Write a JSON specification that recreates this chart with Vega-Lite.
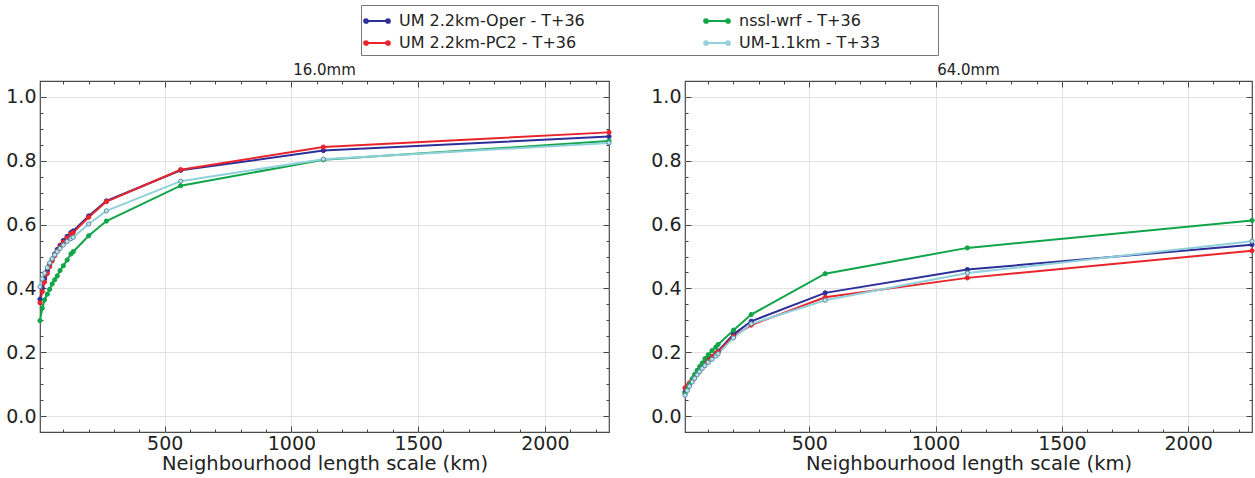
{
  "$schema": "https://vega.github.io/schema/vega-lite/v6.json",
  "padding": {"left": 5, "top": 4, "right": 4, "bottom": 4},
  "data": {"values": [
    {"t":"16.0mm","m":"UM 2.2km-Oper - T+36","x":8,"y":0.366},{"t":"16.0mm","m":"UM 2.2km-Oper - T+36","x":17,"y":0.40},{"t":"16.0mm","m":"UM 2.2km-Oper - T+36","x":26,"y":0.43},{"t":"16.0mm","m":"UM 2.2km-Oper - T+36","x":37,"y":0.455},{"t":"16.0mm","m":"UM 2.2km-Oper - T+36","x":46,"y":0.475},{"t":"16.0mm","m":"UM 2.2km-Oper - T+36","x":56,"y":0.492},{"t":"16.0mm","m":"UM 2.2km-Oper - T+36","x":66,"y":0.508},{"t":"16.0mm","m":"UM 2.2km-Oper - T+36","x":76,"y":0.522},{"t":"16.0mm","m":"UM 2.2km-Oper - T+36","x":87,"y":0.535},{"t":"16.0mm","m":"UM 2.2km-Oper - T+36","x":100,"y":0.55},{"t":"16.0mm","m":"UM 2.2km-Oper - T+36","x":115,"y":0.563},{"t":"16.0mm","m":"UM 2.2km-Oper - T+36","x":130,"y":0.575},{"t":"16.0mm","m":"UM 2.2km-Oper - T+36","x":139,"y":0.58},{"t":"16.0mm","m":"UM 2.2km-Oper - T+36","x":200,"y":0.627},{"t":"16.0mm","m":"UM 2.2km-Oper - T+36","x":270,"y":0.674},{"t":"16.0mm","m":"UM 2.2km-Oper - T+36","x":563,"y":0.770},{"t":"16.0mm","m":"UM 2.2km-Oper - T+36","x":1126,"y":0.832},{"t":"16.0mm","m":"UM 2.2km-Oper - T+36","x":2253,"y":0.876},
    {"t":"16.0mm","m":"UM 2.2km-PC2 - T+36","x":8,"y":0.355},{"t":"16.0mm","m":"UM 2.2km-PC2 - T+36","x":17,"y":0.39},{"t":"16.0mm","m":"UM 2.2km-PC2 - T+36","x":26,"y":0.42},{"t":"16.0mm","m":"UM 2.2km-PC2 - T+36","x":37,"y":0.447},{"t":"16.0mm","m":"UM 2.2km-PC2 - T+36","x":46,"y":0.468},{"t":"16.0mm","m":"UM 2.2km-PC2 - T+36","x":56,"y":0.486},{"t":"16.0mm","m":"UM 2.2km-PC2 - T+36","x":66,"y":0.502},{"t":"16.0mm","m":"UM 2.2km-PC2 - T+36","x":76,"y":0.517},{"t":"16.0mm","m":"UM 2.2km-PC2 - T+36","x":87,"y":0.53},{"t":"16.0mm","m":"UM 2.2km-PC2 - T+36","x":100,"y":0.545},{"t":"16.0mm","m":"UM 2.2km-PC2 - T+36","x":115,"y":0.558},{"t":"16.0mm","m":"UM 2.2km-PC2 - T+36","x":130,"y":0.570},{"t":"16.0mm","m":"UM 2.2km-PC2 - T+36","x":139,"y":0.575},{"t":"16.0mm","m":"UM 2.2km-PC2 - T+36","x":200,"y":0.623},{"t":"16.0mm","m":"UM 2.2km-PC2 - T+36","x":270,"y":0.672},{"t":"16.0mm","m":"UM 2.2km-PC2 - T+36","x":563,"y":0.772},{"t":"16.0mm","m":"UM 2.2km-PC2 - T+36","x":1126,"y":0.843},{"t":"16.0mm","m":"UM 2.2km-PC2 - T+36","x":2253,"y":0.889},
    {"t":"16.0mm","m":"nssl-wrf - T+36","x":8,"y":0.299},{"t":"16.0mm","m":"nssl-wrf - T+36","x":17,"y":0.338},{"t":"16.0mm","m":"nssl-wrf - T+36","x":26,"y":0.364},{"t":"16.0mm","m":"nssl-wrf - T+36","x":37,"y":0.382},{"t":"16.0mm","m":"nssl-wrf - T+36","x":46,"y":0.397},{"t":"16.0mm","m":"nssl-wrf - T+36","x":56,"y":0.414},{"t":"16.0mm","m":"nssl-wrf - T+36","x":66,"y":0.427},{"t":"16.0mm","m":"nssl-wrf - T+36","x":76,"y":0.439},{"t":"16.0mm","m":"nssl-wrf - T+36","x":87,"y":0.456},{"t":"16.0mm","m":"nssl-wrf - T+36","x":100,"y":0.471},{"t":"16.0mm","m":"nssl-wrf - T+36","x":115,"y":0.489},{"t":"16.0mm","m":"nssl-wrf - T+36","x":130,"y":0.508},{"t":"16.0mm","m":"nssl-wrf - T+36","x":139,"y":0.515},{"t":"16.0mm","m":"nssl-wrf - T+36","x":200,"y":0.565},{"t":"16.0mm","m":"nssl-wrf - T+36","x":270,"y":0.611},{"t":"16.0mm","m":"nssl-wrf - T+36","x":563,"y":0.722},{"t":"16.0mm","m":"nssl-wrf - T+36","x":1126,"y":0.803},{"t":"16.0mm","m":"nssl-wrf - T+36","x":2253,"y":0.862},
    {"t":"16.0mm","m":"UM-1.1km - T+33","x":8,"y":0.405},{"t":"16.0mm","m":"UM-1.1km - T+33","x":17,"y":0.43},{"t":"16.0mm","m":"UM-1.1km - T+33","x":26,"y":0.448},{"t":"16.0mm","m":"UM-1.1km - T+33","x":37,"y":0.465},{"t":"16.0mm","m":"UM-1.1km - T+33","x":46,"y":0.48},{"t":"16.0mm","m":"UM-1.1km - T+33","x":56,"y":0.493},{"t":"16.0mm","m":"UM-1.1km - T+33","x":66,"y":0.505},{"t":"16.0mm","m":"UM-1.1km - T+33","x":76,"y":0.515},{"t":"16.0mm","m":"UM-1.1km - T+33","x":87,"y":0.525},{"t":"16.0mm","m":"UM-1.1km - T+33","x":100,"y":0.536},{"t":"16.0mm","m":"UM-1.1km - T+33","x":115,"y":0.547},{"t":"16.0mm","m":"UM-1.1km - T+33","x":130,"y":0.556},{"t":"16.0mm","m":"UM-1.1km - T+33","x":139,"y":0.56},{"t":"16.0mm","m":"UM-1.1km - T+33","x":200,"y":0.602},{"t":"16.0mm","m":"UM-1.1km - T+33","x":270,"y":0.643},{"t":"16.0mm","m":"UM-1.1km - T+33","x":563,"y":0.736},{"t":"16.0mm","m":"UM-1.1km - T+33","x":1126,"y":0.805},{"t":"16.0mm","m":"UM-1.1km - T+33","x":2253,"y":0.856},
    {"t":"64.0mm","m":"UM 2.2km-Oper - T+36","x":8,"y":0.075},{"t":"64.0mm","m":"UM 2.2km-Oper - T+36","x":17,"y":0.088},{"t":"64.0mm","m":"UM 2.2km-Oper - T+36","x":26,"y":0.10},{"t":"64.0mm","m":"UM 2.2km-Oper - T+36","x":37,"y":0.113},{"t":"64.0mm","m":"UM 2.2km-Oper - T+36","x":46,"y":0.124},{"t":"64.0mm","m":"UM 2.2km-Oper - T+36","x":56,"y":0.135},{"t":"64.0mm","m":"UM 2.2km-Oper - T+36","x":66,"y":0.146},{"t":"64.0mm","m":"UM 2.2km-Oper - T+36","x":76,"y":0.156},{"t":"64.0mm","m":"UM 2.2km-Oper - T+36","x":87,"y":0.166},{"t":"64.0mm","m":"UM 2.2km-Oper - T+36","x":100,"y":0.177},{"t":"64.0mm","m":"UM 2.2km-Oper - T+36","x":115,"y":0.187},{"t":"64.0mm","m":"UM 2.2km-Oper - T+36","x":130,"y":0.196},{"t":"64.0mm","m":"UM 2.2km-Oper - T+36","x":139,"y":0.203},{"t":"64.0mm","m":"UM 2.2km-Oper - T+36","x":200,"y":0.256},{"t":"64.0mm","m":"UM 2.2km-Oper - T+36","x":270,"y":0.297},{"t":"64.0mm","m":"UM 2.2km-Oper - T+36","x":563,"y":0.386},{"t":"64.0mm","m":"UM 2.2km-Oper - T+36","x":1126,"y":0.459},{"t":"64.0mm","m":"UM 2.2km-Oper - T+36","x":2253,"y":0.537},
    {"t":"64.0mm","m":"UM 2.2km-PC2 - T+36","x":8,"y":0.088},{"t":"64.0mm","m":"UM 2.2km-PC2 - T+36","x":17,"y":0.095},{"t":"64.0mm","m":"UM 2.2km-PC2 - T+36","x":26,"y":0.104},{"t":"64.0mm","m":"UM 2.2km-PC2 - T+36","x":37,"y":0.115},{"t":"64.0mm","m":"UM 2.2km-PC2 - T+36","x":46,"y":0.125},{"t":"64.0mm","m":"UM 2.2km-PC2 - T+36","x":56,"y":0.135},{"t":"64.0mm","m":"UM 2.2km-PC2 - T+36","x":66,"y":0.145},{"t":"64.0mm","m":"UM 2.2km-PC2 - T+36","x":76,"y":0.155},{"t":"64.0mm","m":"UM 2.2km-PC2 - T+36","x":87,"y":0.165},{"t":"64.0mm","m":"UM 2.2km-PC2 - T+36","x":100,"y":0.176},{"t":"64.0mm","m":"UM 2.2km-PC2 - T+36","x":115,"y":0.186},{"t":"64.0mm","m":"UM 2.2km-PC2 - T+36","x":130,"y":0.195},{"t":"64.0mm","m":"UM 2.2km-PC2 - T+36","x":139,"y":0.201},{"t":"64.0mm","m":"UM 2.2km-PC2 - T+36","x":200,"y":0.25},{"t":"64.0mm","m":"UM 2.2km-PC2 - T+36","x":270,"y":0.285},{"t":"64.0mm","m":"UM 2.2km-PC2 - T+36","x":563,"y":0.372},{"t":"64.0mm","m":"UM 2.2km-PC2 - T+36","x":1126,"y":0.433},{"t":"64.0mm","m":"UM 2.2km-PC2 - T+36","x":2253,"y":0.518},
    {"t":"64.0mm","m":"nssl-wrf - T+36","x":8,"y":0.07},{"t":"64.0mm","m":"nssl-wrf - T+36","x":17,"y":0.085},{"t":"64.0mm","m":"nssl-wrf - T+36","x":26,"y":0.10},{"t":"64.0mm","m":"nssl-wrf - T+36","x":37,"y":0.117},{"t":"64.0mm","m":"nssl-wrf - T+36","x":46,"y":0.13},{"t":"64.0mm","m":"nssl-wrf - T+36","x":56,"y":0.143},{"t":"64.0mm","m":"nssl-wrf - T+36","x":66,"y":0.155},{"t":"64.0mm","m":"nssl-wrf - T+36","x":76,"y":0.166},{"t":"64.0mm","m":"nssl-wrf - T+36","x":87,"y":0.18},{"t":"64.0mm","m":"nssl-wrf - T+36","x":100,"y":0.192},{"t":"64.0mm","m":"nssl-wrf - T+36","x":115,"y":0.205},{"t":"64.0mm","m":"nssl-wrf - T+36","x":130,"y":0.216},{"t":"64.0mm","m":"nssl-wrf - T+36","x":139,"y":0.224},{"t":"64.0mm","m":"nssl-wrf - T+36","x":200,"y":0.269},{"t":"64.0mm","m":"nssl-wrf - T+36","x":270,"y":0.318},{"t":"64.0mm","m":"nssl-wrf - T+36","x":563,"y":0.446},{"t":"64.0mm","m":"nssl-wrf - T+36","x":1126,"y":0.527},{"t":"64.0mm","m":"nssl-wrf - T+36","x":2253,"y":0.613},
    {"t":"64.0mm","m":"UM-1.1km - T+33","x":8,"y":0.065},{"t":"64.0mm","m":"UM-1.1km - T+33","x":17,"y":0.08},{"t":"64.0mm","m":"UM-1.1km - T+33","x":26,"y":0.093},{"t":"64.0mm","m":"UM-1.1km - T+33","x":37,"y":0.107},{"t":"64.0mm","m":"UM-1.1km - T+33","x":46,"y":0.118},{"t":"64.0mm","m":"UM-1.1km - T+33","x":56,"y":0.129},{"t":"64.0mm","m":"UM-1.1km - T+33","x":66,"y":0.139},{"t":"64.0mm","m":"UM-1.1km - T+33","x":76,"y":0.149},{"t":"64.0mm","m":"UM-1.1km - T+33","x":87,"y":0.158},{"t":"64.0mm","m":"UM-1.1km - T+33","x":100,"y":0.168},{"t":"64.0mm","m":"UM-1.1km - T+33","x":115,"y":0.178},{"t":"64.0mm","m":"UM-1.1km - T+33","x":130,"y":0.188},{"t":"64.0mm","m":"UM-1.1km - T+33","x":139,"y":0.195},{"t":"64.0mm","m":"UM-1.1km - T+33","x":200,"y":0.245},{"t":"64.0mm","m":"UM-1.1km - T+33","x":270,"y":0.289},{"t":"64.0mm","m":"UM-1.1km - T+33","x":563,"y":0.363},{"t":"64.0mm","m":"UM-1.1km - T+33","x":1126,"y":0.448},{"t":"64.0mm","m":"UM-1.1km - T+33","x":2253,"y":0.548}
  ]},
  "config": {
    "font": "DejaVu Sans",
    "view": {"stroke": "#4a4a4a", "strokeWidth": 1.2},
    "axis": {"labelFont": "DejaVu Sans", "labelFontSize": 19, "labelColor": "#222222", "titleFont": "DejaVu Sans", "titleFontSize": 19.5, "titleFontWeight": "normal", "titleColor": "#222222", "gridColor": "#e2e2e2", "gridWidth": 1, "domain": false, "tickColor": "#444444", "labelPadding": 10},
    "title": {"font": "DejaVu Sans", "fontSize": 15, "fontWeight": "normal", "color": "#222222", "offset": 3},
    "concat": {"spacing": 36}
  },
  "hconcat": [
    {
      "width": 569, "height": 351,
      "title": "16.0mm",
      "transform": [{"filter": "datum.t == '16.0mm'"}],
      "layer": [
        {"mark": {"type": "line", "strokeWidth": 2},
         "encoding": {
           "x": {"field": "x", "type": "quantitative", "scale": {"domain": [8, 2253], "nice": false, "zero": false}, "axis": {"values": [100,200,300,400,500,600,700,800,900,1000,1100,1200,1300,1400,1500,1600,1700,1800,1900,2000,2100,2200], "labelExpr": "datum.value % 500 == 0 ? format(datum.value, 'd') : ''", "tickSize": {"condition": {"test": "datum.value % 500 != 0", "value": -3}, "value": -6}, "gridOpacity": {"condition": {"test": "datum.value % 500 != 0", "value": 0}, "value": 1}, "labelPadding": 8, "title": "Neighbourhood length scale (km)", "titlePadding": 1}},
           "y": {"field": "y", "type": "quantitative", "scale": {"domain": [-0.05, 1.05], "nice": false}, "axis": {"values": [0,0.05,0.1,0.15,0.2,0.25,0.3,0.35,0.4,0.45,0.5,0.55,0.6,0.65,0.7,0.75,0.8,0.85,0.9,0.95,1.0], "labelExpr": "abs(datum.value*5 - round(datum.value*5)) < 0.001 ? format(datum.value, '.1f') : ''", "tickSize": {"condition": {"test": "abs(datum.value*5 - round(datum.value*5)) > 0.001", "value": -3}, "value": -6}, "gridOpacity": {"condition": {"test": "abs(datum.value*5 - round(datum.value*5)) > 0.001", "value": 0}, "value": 1}, "title": null}},
           "color": {"field": "m", "type": "nominal",
           "scale": {"domain": ["UM 2.2km-Oper - T+36", "UM 2.2km-PC2 - T+36", "nssl-wrf - T+36", "UM-1.1km - T+33"], "range": ["#2c2f9a", "#e8252b", "#10a548", "#8fd0db"]},
           "legend": {"orient": "none", "legendX": 321, "legendY": -76, "columns": 2, "title": " ", "titleOrient": "right", "titlePadding": 54, "titleFontSize": 8, "labelFontSize": 16, "labelFont": "DejaVu Sans", "labelColor": "#222222", "labelLimit": 500, "symbolType": "M-1,0L1,0M-1.17,0A0.17,0.17 0 1,0 -0.83,0A0.17,0.17 0 1,0 -1.17,0M0.83,0A0.17,0.17 0 1,0 1.17,0A0.17,0.17 0 1,0 0.83,0", "symbolSize": 484, "symbolStrokeWidth": 2, "columnPadding": 115, "rowPadding": 2, "padding": 4, "strokeColor": "#777777", "labelOffset": 10, "cornerRadius": 0,
             "encode": {"symbols": {"update": {"fill": {"scale": "color", "field": "value"}}}}}}}},
        {"mark": {"type": "point", "size": 18, "strokeWidth": 1, "opacity": 1},
         "encoding": {
           "x": {"field": "x", "type": "quantitative", "axis": null},
           "y": {"field": "y", "type": "quantitative", "axis": null},
           "fill": {"field": "m", "type": "nominal", "scale": {"domain": ["UM 2.2km-Oper - T+36", "UM 2.2km-PC2 - T+36", "nssl-wrf - T+36", "UM-1.1km - T+33"], "range": ["#2c2f9a", "#e8252b", "#10a548", "#bfe3ea"]}, "legend": null},
           "stroke": {"field": "m", "type": "nominal", "scale": {"domain": ["UM 2.2km-Oper - T+36", "UM 2.2km-PC2 - T+36", "nssl-wrf - T+36", "UM-1.1km - T+33"], "range": ["#2c2f9a", "#e8252b", "#10a548", "#5a8fa5"]}, "legend": null}
         }},
        {"mark": {"type": "point", "opacity": 0},
         "encoding": {
           "x": {"field": "x", "type": "quantitative", "axis": {"orient": "top", "labels": false, "grid": false, "title": null, "values": [100,200,300,400,500,600,700,800,900,1000,1100,1200,1300,1400,1500,1600,1700,1800,1900,2000,2100,2200], "tickSize": {"condition": {"test": "datum.value % 500 != 0", "value": -3}, "value": -6}}},
           "y": {"field": "y", "type": "quantitative", "axis": {"orient": "right", "labels": false, "grid": false, "title": null, "values": [0,0.05,0.1,0.15,0.2,0.25,0.3,0.35,0.4,0.45,0.5,0.55,0.6,0.65,0.7,0.75,0.8,0.85,0.9,0.95,1.0], "tickSize": {"condition": {"test": "abs(datum.value*5 - round(datum.value*5)) > 0.001", "value": -3}, "value": -6}}}
         }}
      ],
      "resolve": {"axis": {"x": "independent", "y": "independent"}}
    },
    {
      "width": 567, "height": 351,
      "title": "64.0mm",
      "transform": [{"filter": "datum.t == '64.0mm'"}],
      "layer": [
        {"mark": {"type": "line", "strokeWidth": 2},
         "encoding": {
           "x": {"field": "x", "type": "quantitative", "scale": {"domain": [8, 2253], "nice": false, "zero": false}, "axis": {"values": [100,200,300,400,500,600,700,800,900,1000,1100,1200,1300,1400,1500,1600,1700,1800,1900,2000,2100,2200], "labelExpr": "datum.value % 500 == 0 ? format(datum.value, 'd') : ''", "tickSize": {"condition": {"test": "datum.value % 500 != 0", "value": -3}, "value": -6}, "gridOpacity": {"condition": {"test": "datum.value % 500 != 0", "value": 0}, "value": 1}, "labelPadding": 8, "title": "Neighbourhood length scale (km)", "titlePadding": 1}},
           "y": {"field": "y", "type": "quantitative", "scale": {"domain": [-0.05, 1.05], "nice": false}, "axis": {"values": [0,0.05,0.1,0.15,0.2,0.25,0.3,0.35,0.4,0.45,0.5,0.55,0.6,0.65,0.7,0.75,0.8,0.85,0.9,0.95,1.0], "labelExpr": "abs(datum.value*5 - round(datum.value*5)) < 0.001 ? format(datum.value, '.1f') : ''", "tickSize": {"condition": {"test": "abs(datum.value*5 - round(datum.value*5)) > 0.001", "value": -3}, "value": -6}, "gridOpacity": {"condition": {"test": "abs(datum.value*5 - round(datum.value*5)) > 0.001", "value": 0}, "value": 1}, "title": null}},
           "color": {"field": "m", "type": "nominal"}}},
        {"mark": {"type": "point", "size": 18, "strokeWidth": 1, "opacity": 1},
         "encoding": {
           "x": {"field": "x", "type": "quantitative", "axis": null},
           "y": {"field": "y", "type": "quantitative", "axis": null},
           "fill": {"field": "m", "type": "nominal", "legend": null},
           "stroke": {"field": "m", "type": "nominal", "legend": null}
         }},
        {"mark": {"type": "point", "opacity": 0},
         "encoding": {
           "x": {"field": "x", "type": "quantitative", "axis": {"orient": "top", "labels": false, "grid": false, "title": null, "values": [100,200,300,400,500,600,700,800,900,1000,1100,1200,1300,1400,1500,1600,1700,1800,1900,2000,2100,2200], "tickSize": {"condition": {"test": "datum.value % 500 != 0", "value": -3}, "value": -6}}},
           "y": {"field": "y", "type": "quantitative", "axis": {"orient": "right", "labels": false, "grid": false, "title": null, "values": [0,0.05,0.1,0.15,0.2,0.25,0.3,0.35,0.4,0.45,0.5,0.55,0.6,0.65,0.7,0.75,0.8,0.85,0.9,0.95,1.0], "tickSize": {"condition": {"test": "abs(datum.value*5 - round(datum.value*5)) > 0.001", "value": -3}, "value": -6}}}
         }}
      ],
      "resolve": {"axis": {"x": "independent", "y": "independent"}}
    }
  ]
}
